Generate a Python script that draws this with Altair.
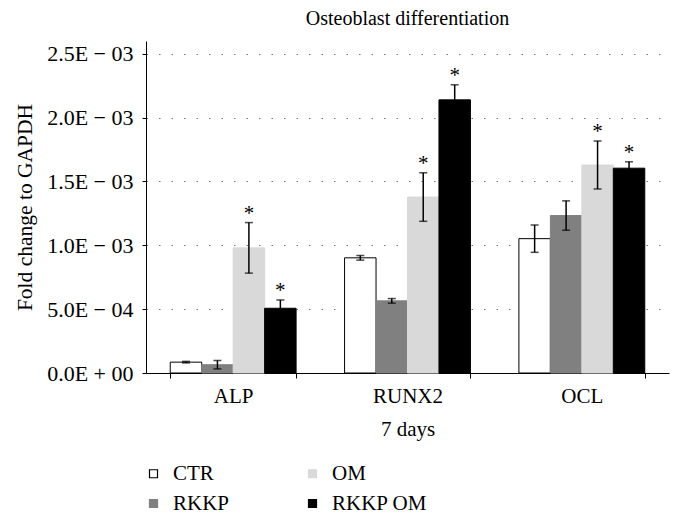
import altair as alt
import pandas as pd

genes = ["ALP", "RUNX2", "OCL"]
groups = ["CTR", "RKKP", "OM", "RKKP OM"]
# legend is read column by column: CTR, RKKP | OM, RKKP OM
legend_order = ["CTR", "OM", "RKKP", "RKKP OM"]
colors = ["white", "#d9d9d9", "#808080", "black"]
strokes = ["black", "#d9d9d9", "#808080", "black"]

# values per gene, in group order
alp = [0.000085, 0.000065, 0.00098, 0.000507]
runx2 = [0.000902, 0.000565, 0.001378, 0.002139]
ocl = [0.001052, 0.001233, 0.001629, 0.001604]

alp_err = [0.000006, 0.000033, 0.000198, 0.000065]
runx2_err = [0.000018, 0.000018, 0.00019, 0.000118]
ocl_err = [0.000107, 0.000115, 0.000188, 0.00005]

alp_sig = [False, False, True, True]
runx2_sig = [False, False, True, True]
ocl_sig = [False, False, True, True]

y_ticks = [0.0, 0.0005, 0.001, 0.0015, 0.002, 0.0025]
y_labels = ["0.0E + 00", "5.0E − 04", "1.0E − 03", "1.5E − 03", "2.0E − 03", "2.5E − 03"]

rows = []
for g, vals, errs, sigs in [("ALP", alp, alp_err, alp_sig),
                            ("RUNX2", runx2, runx2_err, runx2_sig),
                            ("OCL", ocl, ocl_err, ocl_sig)]:
    for grp, v, e, s in zip(groups, vals, errs, sigs):
        rows.append({"gene": g, "group": grp, "value": v,
                     "lo": v - e, "hi": v + e, "star": "*" if s else ""})
df = pd.DataFrame(rows)

FONT = "Liberation Serif"

label_expr = "[" + ",".join("'%s'" % l for l in y_labels) + "][round(datum.value/0.0005)]"

x_enc = alt.X("gene:N", sort=genes,
              scale=alt.Scale(paddingInner=0.278, paddingOuter=0.139),
              axis=alt.Axis(title="7 days", labelAngle=0, tickBand="extent",
                            tickSize=5, tickColor="black", domainColor="black",
                            labelFont=FONT, labelFontSize=21, labelColor="black",
                            titleFont=FONT, titleFontSize=21, titleFontWeight="normal",
                            titleColor="black", labelPadding=7, titlePadding=12, grid=False))
xo_enc = alt.XOffset("group:N", scale=alt.Scale(domain=groups))

base = alt.Chart(df)

bars = base.mark_bar(strokeWidth=1).encode(
    x=x_enc,
    xOffset=xo_enc,
    y=alt.Y("value:Q",
            scale=alt.Scale(domain=[0, 0.0025]),
            axis=alt.Axis(title="Fold change to GAPDH", values=y_ticks, labelExpr=label_expr,
                          tickSize=4, tickColor="black", domainColor="black",
                          labelFont=FONT, labelFontSize=22, labelColor="black", labelPadding=9,
                          titleFont=FONT, titleFontSize=21.5, titleFontWeight="normal",
                          titleColor="black", titlePadding=10,
                          grid=True, gridColor="#777777", gridDash=[1.5, 11], gridWidth=1.2)),
    fill=alt.Fill("group:N", scale=alt.Scale(domain=legend_order, range=colors), title=None),
    stroke=alt.Stroke("group:N", scale=alt.Scale(domain=legend_order, range=strokes), title=None),
)

err = base.mark_rule(color="black", strokeWidth=1.5).encode(
    x=alt.X("gene:N", sort=genes), xOffset=xo_enc,
    y="lo:Q", y2="hi:Q")

cap_hi = base.mark_tick(color="black", thickness=1.5, size=8).encode(
    x=alt.X("gene:N", sort=genes), xOffset=xo_enc, y="hi:Q")
cap_lo = base.mark_tick(color="black", thickness=1.5, size=8).encode(
    x=alt.X("gene:N", sort=genes), xOffset=xo_enc, y="lo:Q")

stars = base.mark_text(font=FONT, fontSize=21, dy=-9, baseline="middle", color="black").encode(
    x=alt.X("gene:N", sort=genes), xOffset=xo_enc, y="hi:Q", text="star:N")

chart = alt.layer(bars, err, cap_hi, cap_lo, stars).properties(
    width=523, height=332,
    title=alt.TitleParams("Osteoblast differentiation", font=FONT, fontSize=20,
                          fontWeight="normal", color="black", anchor="middle", offset=12),
    autosize=alt.AutoSizeParams(type="none"),
    padding={"left": 138, "top": 33, "right": 7, "bottom": 160},
).configure_view(stroke=None).configure_legend(
    orient="none", legendX=-3, legendY=422, columns=2, direction="horizontal",
    symbolType="square", symbolSize=64, symbolStrokeWidth=1.2,
    labelFont=FONT, labelFontSize=21, labelColor="black", labelOffset=9,
    columnPadding=72, rowPadding=8, padding=0,
)

chart.save("out.html", embed_options={"renderer": "svg", "actions": False})
